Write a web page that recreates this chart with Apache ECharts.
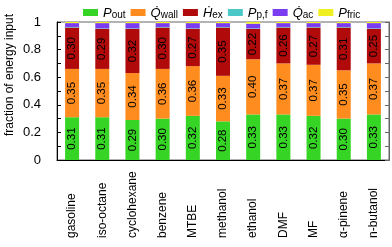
<!DOCTYPE html>
<html><head><meta charset="utf-8">
<script src="https://cdn.jsdelivr.net/npm/echarts@6/dist/echarts.min.js"></script>
<style>html,body{margin:0;padding:0;background:#fff}#c{width:392px;height:247px}</style>
</head><body><div id="c"></div>
<script>
const categories = ['gasoline','iso-octane','cyclohexane','benzene','MTBE','methanol','ethanol','DMF','MF','\u03b1-pinene','n-butanol'];
const P_out  = [0.31,0.31,0.29,0.30,0.32,0.28,0.33,0.33,0.32,0.30,0.33];
const Q_wall = [0.35,0.35,0.34,0.36,0.36,0.33,0.40,0.37,0.37,0.35,0.37];
const H_ex   = [0.30,0.29,0.32,0.30,0.27,0.35,0.22,0.26,0.27,0.31,0.25];
const P_pf   = [0.004,0.004,0.004,0.004,0.004,0.004,0.004,0.004,0.004,0.004,0.004];
const Q_ac   = [0.028,0.038,0.038,0.028,0.038,0.028,0.034,0.028,0.028,0.028,0.038];
const P_fric = [0.008,0.008,0.008,0.008,0.008,0.008,0.012,0.008,0.008,0.008,0.008];
const yTicks = [0,0.2,0.4,0.6,0.8,1];

const names = ['P_out','Q_wall','H_ex','P_pf','Q_ac','P_fric'];
const legendRich = {
  'P_out':'{i|P}{s|out}',
  'Q_wall':'{i|Q\u0307}{s|wall}',
  'H_ex':'{i|H\u0307}{s|ex}',
  'P_pf':'{i|P}{s|p,f}',
  'Q_ac':'{i|Q\u0307}{s|ac}',
  'P_fric':'{i|P}{s|fric}'
};
const colors = ['#36d425','#ff8c1e','#b00a0a','#4dc8c8','#7a3cf0','#f0f020'];
const datas = [P_out,Q_wall,H_ex,P_pf,Q_ac,P_fric];
const FONT = 'Liberation Sans, Arial, sans-serif';

const series = names.map((n,i)=>({
  name:n, type:'bar', stack:'all', barWidth:14,
  data:datas[i],
  itemStyle:{color:colors[i]},
  label: i<3 ? {show:true, position:'inside', rotate:90, color:'#000', fontSize:11.5, fontFamily:FONT,
                formatter:p=>p.value.toFixed(2)} : {show:false},
  emphasis:{disabled:true}
}));

const chart = echarts.init(document.getElementById('c'), null, {renderer:'canvas'});
chart.setOption({
  animation:false,
  color:colors,
  grid:{left:57, right:3, top:22, bottom:87, show:true, borderColor:'#666', borderWidth:1},
  legend:{
    data:names, left:78, top:2, itemWidth:15, itemHeight:7, itemGap:5,
    icon:'rect',
    formatter:n=>legendRich[n],
    textStyle:{fontFamily:FONT, color:'#000',
      rich:{
        i:{fontSize:13, fontStyle:'italic', fontFamily:FONT, color:'#000', verticalAlign:'bottom'},
        s:{fontSize:10, fontFamily:FONT, color:'#000', verticalAlign:'bottom', padding:[5,0,0,0]}
      }}
  },
  xAxis:{
    type:'category', data:categories,
    axisLine:{lineStyle:{color:'#000'}},
    axisTick:{show:false},
    axisLabel:{rotate:90, align:'left', verticalAlign:'middle', margin:78, fontSize:12, fontFamily:FONT, color:'#000', interval:0}
  },
  yAxis:[{
    type:'value', min:0, max:1, interval:0.2,
    axisLine:{show:true, lineStyle:{color:'#000'}},
    axisTick:{show:true, inside:true, length:4, lineStyle:{color:'#000'}},
    minorTick:{show:true, splitNumber:2, length:4, lineStyle:{color:'#000'}},
    splitLine:{show:false},
    axisLabel:{fontSize:13, fontFamily:FONT, color:'#000', margin:16,
      formatter:v=>{const t=yTicks.find(x=>Math.abs(x-v)<1e-6); return t===undefined?'':String(t);}}
  },{
    type:'value', min:0, max:1, interval:0.2, position:'right',
    axisLine:{show:true, lineStyle:{color:'#666'}},
    axisTick:{show:true, inside:true, length:4, lineStyle:{color:'#666'}},
    minorTick:{show:true, splitNumber:2, length:4, lineStyle:{color:'#666'}},
    splitLine:{show:false},
    axisLabel:{show:false}
  }],
  graphic:[{
    type:'text', x:10, y:75, rotation:Math.PI/2,
    style:{text:'fraction of energy input', fontSize:12, fontFamily:FONT, fill:'#000', align:'center', verticalAlign:'middle'}
  }],
  series:series
});
</script></body></html>
